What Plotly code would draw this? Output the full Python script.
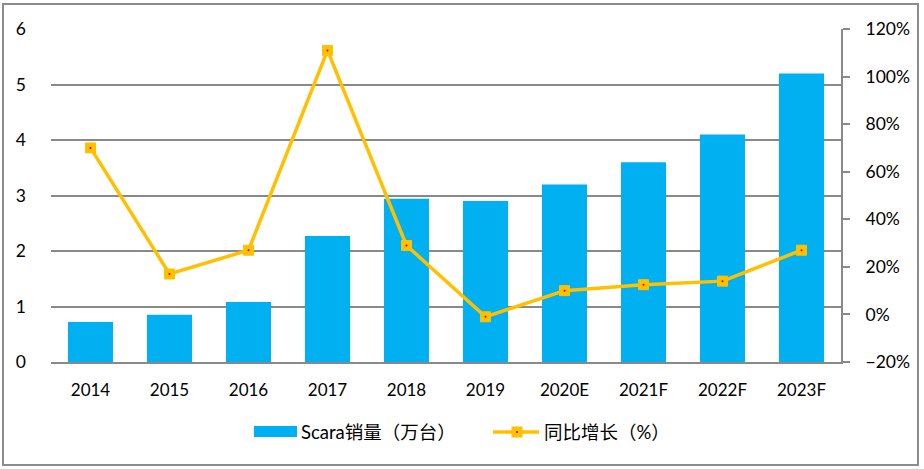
import plotly.graph_objects as go

categories = ["2014", "2015", "2016", "2017", "2018", "2019", "2020E", "2021F", "2022F", "2023F"]
sales = [0.72, 0.85, 1.08, 2.27, 2.94, 2.90, 3.20, 3.60, 4.10, 5.20]
growth = [0.70, 0.17, 0.27, 1.11, 0.29, -0.01, 0.10, 0.125, 0.14, 0.27]
bar_name = "Scara销量（万台）"
line_name = "同比增长（%）"

L, R, T, B = 51, 83, 29, 107
W, H = 924, 469
pw, ph = W - L - R, H - T - B

def px_x(p):
    return (p - L) / pw

def px_y(p):
    return (H - B - p) / ph

font_family = "Lato, 'Noto Sans CJK SC', sans-serif"
bar_color = "#00B0F0"
line_color = "#FFC000"

fig = go.Figure()
fig.add_trace(go.Bar(
    x=categories, y=sales, name=bar_name,
    marker=dict(color=bar_color, line=dict(width=0)),
    yaxis="y",
))
fig.add_trace(go.Scatter(
    x=categories, y=growth, name=line_name, yaxis="y2",
    mode="lines+markers",
    line=dict(color=line_color, width=3.5),
    marker=dict(symbol="square", size=10, color=line_color,
                line=dict(color=line_color, width=1)),
))
fig.add_trace(go.Scatter(
    x=categories, y=growth, yaxis="y2", mode="markers", showlegend=False,
    marker=dict(symbol="circle", size=2, color="#C00000"), hoverinfo="skip",
))

shapes = [
    dict(type="rect", xref="paper", yref="paper",
         x0=px_x(3), x1=px_x(918), y0=px_y(465), y1=px_y(4),
         line=dict(color="#8C8C8C", width=2), fillcolor="rgba(0,0,0,0)", layer="below"),
    # manual legend: bar swatch
    dict(type="rect", xref="paper", yref="paper",
         x0=px_x(254), x1=px_x(297), y0=px_y(437), y1=px_y(426),
         line=dict(width=0), fillcolor=bar_color),
    # manual legend: line swatch
    dict(type="line", xref="paper", yref="paper",
         x0=px_x(493), x1=px_x(539), y0=px_y(432), y1=px_y(432),
         line=dict(color=line_color, width=3.5)),
    dict(type="rect", xref="paper", yref="paper",
         x0=px_x(511.5), x1=px_x(522.5), y0=px_y(437.5), y1=px_y(426.5),
         line=dict(width=0), fillcolor=line_color),
    dict(type="circle", xref="paper", yref="paper",
         x0=px_x(516), x1=px_x(518), y0=px_y(433), y1=px_y(431),
         line=dict(width=0), fillcolor="#C00000"),
]

annotations = [
    dict(text=bar_name, xref="paper", yref="paper", x=px_x(299), y=px_y(432),
         xanchor="left", yanchor="middle", showarrow=False,
         font=dict(size=18.5, color="#000000")),
    dict(text=line_name, xref="paper", yref="paper", x=px_x(542), y=px_y(432),
         xanchor="left", yanchor="middle", showarrow=False,
         font=dict(size=18.5, color="#000000")),
]

fig.update_layout(
    width=W, height=H,
    margin=dict(l=L, r=R, t=T, b=B, autoexpand=False),
    paper_bgcolor="white", plot_bgcolor="white",
    font=dict(family=font_family, size=17, color="#000000"),
    bargap=0.43,
    showlegend=False,
    xaxis=dict(showgrid=False, showline=True, linecolor="#898989", linewidth=2,
               range=[-0.5, len(categories) - 0.5],
               ticks="", tickfont=dict(size=17), ticklabelstandoff=12, automargin=False),
    yaxis=dict(range=[0, 6], dtick=1, showgrid=True, gridcolor="#898989", gridwidth=2,
               showline=False, zeroline=False, ticks="", tickfont=dict(size=17.5),
               ticklabelstandoff=24, automargin=False),
    yaxis2=dict(range=[-0.2, 1.2], dtick=0.2, tickformat=".0%", overlaying="y", side="right",
                showgrid=False, zeroline=False, showline=True, linecolor="#898989", linewidth=2,
                ticks="outside", ticklen=7, tickcolor="#898989", tickwidth=2,
                tickfont=dict(size=17.5), ticklabelstandoff=12, automargin=False),
    shapes=shapes,
    annotations=annotations,
)

fig.write_html("out.html", config={"displayModeBar": False},
               post_script="document.body.style.margin='0';document.body.style.overflow='hidden';")
